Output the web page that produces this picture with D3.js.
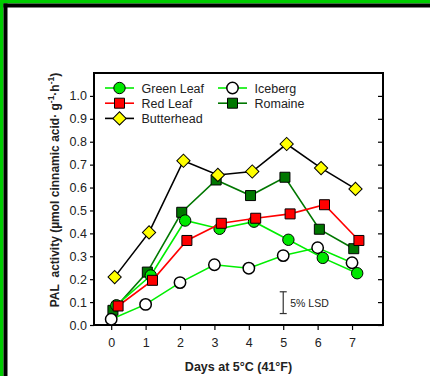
<!DOCTYPE html>
<html>
<head>
<meta charset="utf-8">
<script src="https://cdn.jsdelivr.net/npm/d3@7"></script>
<style>
  body { margin: 0; background: #fff; }
  text { font-family: "Liberation Sans", Arial, sans-serif; }
</style>
</head>
<body>
<svg id="pal" width="430" height="376"></svg>
<script>
// days of storage and PAL activity per lettuce type
var days = [0, 1, 2, 3, 4, 5, 6, 7];
var yTicks = [0, 0.1, 0.2, 0.3, 0.4, 0.5, 0.6, 0.7, 0.8, 0.9, 1.0];
var greenLeaf  = [0.086, 0.216, 0.456, 0.420, 0.451, 0.372, 0.293, 0.226];
var redLeaf    = [0.083, 0.195, 0.369, 0.444, 0.466, 0.485, 0.525, 0.369];
var butterhead = [0.209, 0.404, 0.717, 0.655, 0.670, 0.790, 0.685, 0.594];
var iceberg    = [0.025, 0.090, 0.185, 0.263, 0.248, 0.303, 0.337, 0.272];
var romaine    = [0.064, 0.231, 0.492, 0.633, 0.565, 0.645, 0.418, 0.333];
var lsd = 0.095;

var svg = d3.select("#pal"),
    margin = {top: 73, right: 47, bottom: 51, left: 94},
    width = +svg.attr("width") - margin.left - margin.right,
    height = +svg.attr("height") - margin.top - margin.bottom;

// frame border (green + black) on left and top
svg.append("rect").attr("x", 0).attr("y", 0).attr("width", 430).attr("height", 3.5).attr("fill", "#00cc00");
svg.append("rect").attr("x", 0).attr("y", 0).attr("width", 3.5).attr("height", 376).attr("fill", "#00cc00");
svg.append("rect").attr("x", 3.5).attr("y", 3.5).attr("width", 426.5).attr("height", 4).attr("fill", "#000");
svg.append("rect").attr("x", 3.5).attr("y", 3.5).attr("width", 4).attr("height", 372.5).attr("fill", "#000");

var g = svg.append("g").attr("transform", "translate(" + margin.left + "," + margin.top + ")");

var x = d3.scaleLinear().domain([-0.5, 7.9]).range([0, width]);
var y = d3.scaleLinear().domain([0, 1.1]).range([height, 0]);

// series styles, drawn back to front
var series = [
  {name: "Romaine",    values: romaine,    shape: "square",  fill: "#007700", line: "#007700", dx: 0.05},
  {name: "Iceberg",    values: iceberg,    shape: "circle",  fill: "#ffffff", line: "#00ee00", dx: 0},
  {name: "Green Leaf", values: greenLeaf,  shape: "circle",  fill: "#00e800", line: "#00ee00", dx: 0.15},
  {name: "Red Leaf",   values: redLeaf,    shape: "square",  fill: "#ff0000", line: "#ff0000", dx: 0.2},
  {name: "Butterhead", values: butterhead, shape: "diamond", fill: "#ffff00", line: "#000000", dx: 0.1}
];

var symbols = {
  circle: d3.symbol().type(d3.symbolCircle).size(Math.PI * 5.7 * 5.7),
  square: d3.symbol().type(d3.symbolSquare).size(100),
  diamond: d3.symbol().type(d3.symbolSquare).size(88)
};

function drawMarker(sel, s, px, py) {
  sel.attr("d", symbols[s.shape]())
    .attr("transform", "translate(" + px + "," + py + ")" + (s.shape == "diamond" ? " rotate(45)" : ""))
    .attr("fill", s.fill)
    .attr("stroke", "#000")
    .attr("stroke-width", s.name == "Iceberg" ? 1.5 : 1);
}

// axes
g.append("g").attr("transform", "translate(0," + height + ")")
  .call(d3.axisBottom(x).tickValues(days).tickSize(5).tickPadding(8).tickSizeOuter(0))
  .call(styleAxis);

g.append("g")
  .call(d3.axisLeft(y).tickValues(yTicks).tickFormat(d3.format(".1f")).tickSize(4).tickPadding(3).tickSizeOuter(0))
  .call(styleAxis);

g.append("g").attr("transform", "translate(" + width + ",0)")
  .call(d3.axisLeft(y).tickValues(yTicks).tickFormat("").tickSize(5).tickSizeOuter(0))
  .call(styleAxis);

function styleAxis(a) {
  a.select(".domain").remove();
  a.selectAll(".tick line").attr("stroke", "#000").attr("stroke-width", 1.2);
  a.selectAll(".tick text").attr("fill", "#222").attr("font-size", "12.5px").attr("font-family", "Liberation Sans, Arial, sans-serif");
}

g.append("rect").attr("width", width).attr("height", height)
  .attr("fill", "none").attr("stroke", "#000").attr("stroke-width", 2);

// series lines and markers
var line = d3.line()
  .x(function(d) { return x(d.day); })
  .y(function(d) { return y(d.v); });

series.forEach(function(s) {
  var pts = s.values.map(function(v, i) { return {day: days[i] + s.dx, v: v}; });
  g.append("path").datum(pts)
    .attr("fill", "none").attr("stroke", s.line).attr("stroke-width", 1.6)
    .attr("d", line);
  g.selectAll(null).data(pts).enter().append("path")
    .each(function(d) { drawMarker(d3.select(this), s, x(d.day), y(d.v)); });
});

// LSD bar
var lsdX = x(5), lsdY0 = y(0.05), lsdY1 = y(0.05 + lsd);
var lsdG = g.append("g").attr("stroke", "#333").attr("stroke-width", 1.2);
lsdG.append("line").attr("x1", lsdX).attr("x2", lsdX).attr("y1", lsdY0).attr("y2", lsdY1);
lsdG.append("line").attr("x1", lsdX - 3.5).attr("x2", lsdX + 3.5).attr("y1", lsdY0).attr("y2", lsdY0);
lsdG.append("line").attr("x1", lsdX - 3.5).attr("x2", lsdX + 3.5).attr("y1", lsdY1).attr("y2", lsdY1);
g.append("text").attr("x", lsdX + 7).attr("y", (lsdY0 + lsdY1) / 2 + 4)
  .attr("font-size", "10.5px").attr("fill", "#222").text("5% LSD");

// legend
var legendItems = [
  {s: series[2], col: 0, row: 0},
  {s: series[3], col: 0, row: 1},
  {s: series[4], col: 0, row: 2},
  {s: series[1], col: 1, row: 0},
  {s: series[0], col: 1, row: 1}
];
var legend = g.append("g").attr("transform", "translate(11,15)");
legendItems.forEach(function(it) {
  var lg = legend.append("g").attr("transform", "translate(" + (it.col * 113) + "," + (it.row * 15.2) + ")");
  lg.append("line").attr("x1", 0).attr("x2", 29).attr("stroke", it.s.line).attr("stroke-width", 1.6);
  lg.append("path").each(function() { drawMarker(d3.select(this), it.s, 14.5, 0); });
  lg.append("text").attr("x", 36.5).attr("y", 4.5).attr("font-size", "12.5px").attr("fill", "#222").text(it.s.name);
});

// axis titles
svg.append("text")
  .attr("x", margin.left + width / 2).attr("y", 371)
  .attr("text-anchor", "middle").attr("font-weight", "bold").attr("font-size", "12.5px").attr("fill", "#222")
  .text("Days at 5\u00b0C (41\u00b0F)");

var yt = svg.append("text")
  .attr("transform", "translate(59,190) rotate(-90)")
  .attr("text-anchor", "middle").attr("font-weight", "bold").attr("font-size", "12px").attr("fill", "#222");
yt.append("tspan").text("PAL\u00a0 activity (\u00b5mol cinnamic acid\u00b7 g");
yt.append("tspan").attr("dy", -5).attr("font-size", "8.5px").text("-1");
yt.append("tspan").attr("dy", 5).text("\u00b7h");
yt.append("tspan").attr("dy", -5).attr("font-size", "8.5px").text("-1");
yt.append("tspan").attr("dy", 5).text(")");
</script>
</body>
</html>
